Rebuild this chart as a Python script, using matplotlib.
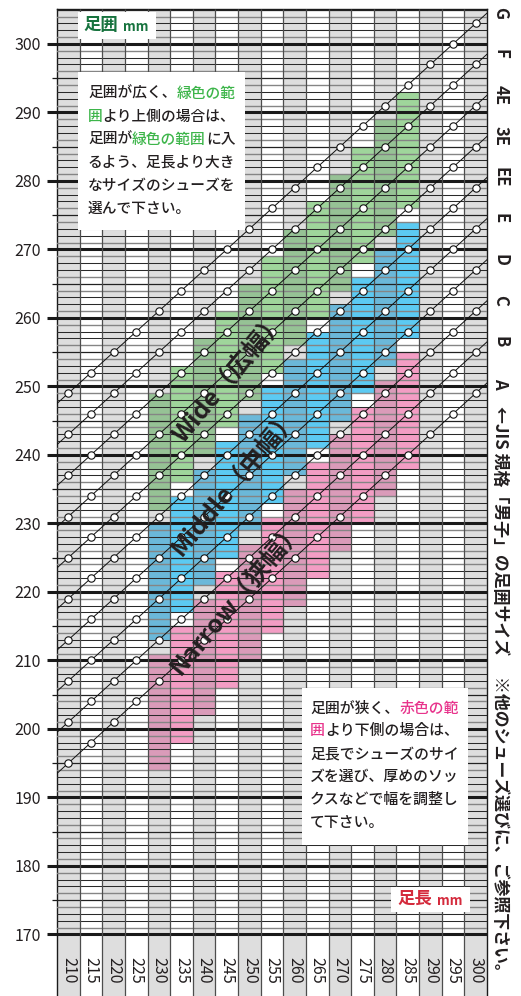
import numpy as np
import matplotlib.pyplot as plt
from matplotlib.patches import Rectangle

plt.rcParams['font.family'] = ['Noto Sans CJK JP', 'DejaVu Sans']

W, H = 521, 996

# foot length columns (mm)
lengths = [210, 215, 220, 225, 230, 235, 240, 245, 250, 255,
           260, 265, 270, 275, 280, 285, 290, 295, 300]
# JIS men's foot girth for width A at each length (mm)
girth_a = [195, 198, 201, 204, 207, 210, 213, 216, 219, 222,
           225, 228, 231, 234, 237, 240, 243, 246, 249]
widths = ['A', 'B', 'C', 'D', 'E', 'EE', '3E', '4E', 'F', 'G']
width_step = [0, 6, 12, 18, 24, 30, 36, 42, 48, 54]

# shoe width bands (girth range per length)
band_lengths = [230, 235, 240, 245, 250, 255, 260, 265, 270, 275, 280, 285]
wide_lo = [232, 236, 240, 244, 248, 252, 256, 260, 264, 268, 272, 276]
wide_hi = [249, 253, 257, 261, 265, 269, 273, 277, 281, 285, 289, 293]
middle_lo = [213, 217, 221, 225, 229, 233, 237, 241, 245, 249, 253, 257]
middle_hi = [230, 234, 238, 242, 246, 250, 254, 258, 262, 266, 270, 274]
narrow_lo = [194, 198, 202, 206, 210, 214, 218, 222, 226, 230, 234, 238]
narrow_hi = [211, 215, 219, 223, 227, 231, 235, 239, 243, 247, 251, 255]
band_labels = ['Wide（広幅）', 'Middle（中幅）', 'Narrow（狭幅）']

TXT = '#231f20'

fig = plt.figure(figsize=(W / 100, H / 100), dpi=100)
ax = fig.add_axes([57 / W, 0, 430 / W, 987 / H])
x0, x1 = 207.5, 302.5
y0, y1 = 161.0, 305.1
ax.set_xlim(x0, x1)
ax.set_ylim(y0, y1)

# alternating gray columns
ax.bar(lengths[::2], y1 - y0, bottom=y0, width=5, color='#dedede',
       linewidth=0, zorder=1)


def shade(light, dark):
    return [dark if lengths.index(l) % 2 == 0 else light for l in band_lengths]


bands = [(wide_lo, wide_hi, '#9fd59b', '#96c295'),
         (middle_lo, middle_hi, '#5ccaf2', '#6bb8d9'),
         (narrow_lo, narrow_hi, '#f39dc4', '#da9bb9')]
for lo, hi, light, dark in bands:
    ax.bar(band_lengths, np.subtract(hi, lo), bottom=lo, width=5,
           color=shade(light, dark), linewidth=0, zorder=2)

# row lines every 1 mm
for g in range(170, 306):
    if g % 10 == 0:
        lw, c = 2.2, '#1a1a1a'
    elif g % 5 == 0:
        lw, c = 0.9, '#222222'
    elif g % 5 in (2, 3):
        lw, c = 0.75, '#2a2a2a'
    else:
        lw, c = 1.0, '#858585'
    ax.axhline(g, color=c, lw=lw, zorder=3)

ax.vlines(np.array(lengths[1:]) - 2.5, y0, y1, color='#4d4d4d', lw=0.9, zorder=3)

# JIS width lines
for step in width_step:
    g = np.add(girth_a, step)
    ax.axline((lengths[0], g[0]), (lengths[-1], g[-1]), color='#111111',
              lw=0.7, zorder=4)
    ax.plot(lengths, g, 'o', ms=5.3, mfc='white', mec='#111111', mew=0.8,
            zorder=5)

slope = (girth_a[-1] - girth_a[0]) / (lengths[-1] - lengths[0])
for w, step in zip(widths, width_step):
    g_edge = girth_a[-1] + step + slope * (x1 - lengths[-1])
    ax.text(305.4, g_edge, w, rotation=270, ha='center', va='center',
            fontsize=12, fontweight='bold', color=TXT, clip_on=False)
ax.text(305.4, 205.3, '←JIS 規格「男子」の足囲サイズ　 ※他のシューズ選びに、ご参照下さい。',
        rotation=270, ha='center', va='center', fontsize=12.2,
        fontweight='bold', color=TXT, clip_on=False)

for l in lengths:
    ax.text(l, 164.8, str(l), rotation=270, ha='center', va='center',
            fontsize=11.5, color=TXT, zorder=6)

for lab, (lx, ly) in zip(band_labels, [(245.7, 251.2), (247.0, 235.9), (247.3, 219.1)]):
    ax.text(lx, ly, lab, rotation=50, ha='center', va='center', fontsize=18,
            fontweight='bold', color='#231f20', zorder=6)

ax.set_xticks([])
ax.set_yticks(range(170, 301, 10))
ax.set_yticks(range(175, 300, 10), minor=True)
ax.tick_params(axis='y', which='major', length=7.5, width=2.2, labelsize=11.5,
               pad=4, labelcolor=TXT, color='#1a1a1a')
ax.tick_params(axis='y', which='minor', length=3.6, width=0.9, color='#1a1a1a')
for side in ['top', 'left', 'right']:
    ax.spines[side].set_linewidth(1.0)
    ax.spines[side].set_color('#1a1a1a')
ax.spines['bottom'].set_visible(False)


def white_box(xa, ya, xb, yb):
    fig.add_artist(Rectangle((xa / W, 1 - yb / H), (xb - xa) / W, (yb - ya) / H,
                             transform=fig.transFigure, facecolor='white',
                             edgecolor='none', zorder=10))


def text_line(x, y, parts, size, weight='medium'):
    em = size * 100 / 72
    for s, col in parts:
        fig.text(x / W, 1 - y / H, s, color=col, fontsize=size, ha='left',
                 va='center', fontweight=weight, zorder=11)
        x += len(s) * em


GREEN = '#3db54a'
PINK = '#e8348c'

white_box(78, 12, 156, 39)
text_line(83, 25.5, [('足囲', '#17733e')], 12.5, 'bold')
text_line(123, 27, [('mm', '#17733e')], 9.5, 'bold')

white_box(78, 72, 245, 230)
top_lines = [[('足囲が広く、', TXT), ('緑色の範', GREEN)],
             [('囲', GREEN), ('より上側の場合は、', TXT)],
             [('足囲が', TXT), ('緑色の範囲', GREEN), ('に入', TXT)],
             [('るよう、足長より大き', TXT)],
             [('なサイズのシューズを', TXT)],
             [('選んで下さい。', TXT)]]
for i, parts in enumerate(top_lines):
    text_line(88, 93.5 + i * 23.1, parts, 10.6)

white_box(302, 688, 468, 845)
bottom_lines = [[('足囲が狭く、', TXT), ('赤色の範', PINK)],
                [('囲', PINK), ('より下側の場合は、', TXT)],
                [('足長でシューズのサイ', TXT)],
                [('ズを選び、厚めのソッ', TXT)],
                [('クスなどで幅を調整し', TXT)],
                [('て下さい。', TXT)]]
for i, parts in enumerate(bottom_lines):
    text_line(310, 708 + i * 22.9, parts, 10.7)

white_box(391, 887, 470, 912)
text_line(397, 899, [('足長', '#d42a3c')], 12.5, 'bold')
text_line(437, 901, [('mm', '#d42a3c')], 9.5, 'bold')

fig.savefig('out.png', dpi=100)
